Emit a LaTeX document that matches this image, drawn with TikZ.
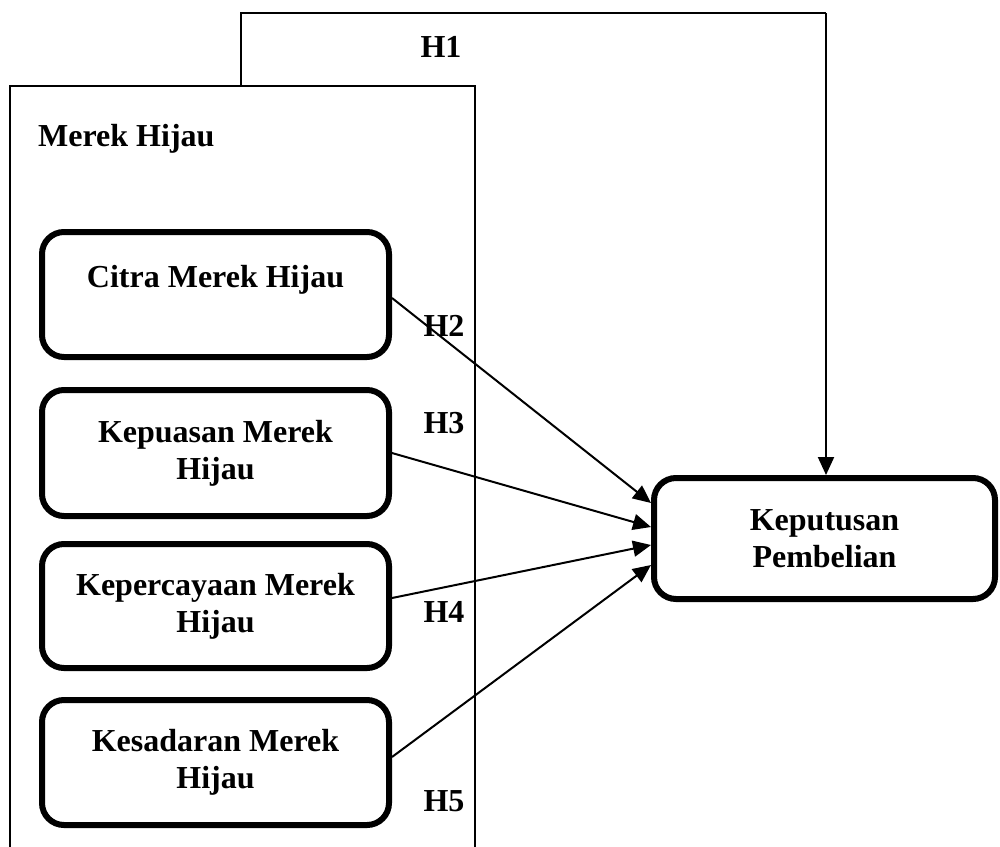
\documentclass[tikz,border=0pt]{standalone}
\usepackage{fontspec}
\setmainfont{Liberation Serif}
\usetikzlibrary{arrows.meta,calc}
\begin{document}
\begin{tikzpicture}[x=1pt,y=-1pt,
  txt/.style={font=\fontsize{32}{37}\selectfont\bfseries},
  box/.style={txt, draw, line width=6pt, rounded corners=22pt, minimum width=347pt, minimum height=125pt, align=center, inner sep=0pt},
  lbl/.style={txt, inner sep=0pt},
  thinline/.style={line width=1.5pt},
  arr/.style={line width=2pt, -{Triangle[length=18pt,width=16pt]}}]
\useasboundingbox (0,0) rectangle (1000,846);
% frame
\coordinate (fbl) at (10,850);
\coordinate (ftr) at (475,86);
\coordinate (fbr) at (475,850);
\draw[thinline] (fbl) |- (ftr) -- (fbr);
\node[lbl, anchor=west] (merek) at (38,139) {Merek Hijau};
% boxes
\node[box] (citra) at (215.5,294.5) {Citra Merek Hijau\\\mbox{}};
\node[box, minimum height=126pt] (puas) at (215.5,453) {Kepuasan Merek\\Hijau};
\node[box, minimum height=124pt] (percaya) at (215.5,606) {Kepercayaan Merek\\Hijau};
\node[box] (sadar) at (215.5,762.5) {Kesadaran Merek\\Hijau};
\node[box, minimum width=341pt, minimum height=121pt] (kep) at (824.5,538.5) {Keputusan\\Pembelian};
% H1
\coordinate (h1a) at (241,86);
\coordinate (h1b) at (826,13);
\draw[thinline] (h1a) |- (h1b);
\draw[arr] (h1b) -- (h1b |- kep.north);
% arrows
\draw[arr] ([yshift=-3.5pt]citra.east) -- ([yshift=35.5pt]kep.west);
\draw[arr] (puas.east) -- ([yshift=11.5pt]kep.west);
\draw[arr] ([yshift=8pt]percaya.east) -- ([yshift=-6.5pt]kep.west);
\draw[arr] ([yshift=5.5pt]sadar.east) -- ([yshift=-26.5pt]kep.west);
% labels
\node[lbl] (h1) at (441,47) {H1};
\node[lbl] (h2) at (444,326) {H2};
\node[lbl] (h3) at (444,423) {H3};
\node[lbl] (h4) at (444,612) {H4};
\node[lbl] (h5) at (444,801) {H5};
\end{tikzpicture}
\end{document}
